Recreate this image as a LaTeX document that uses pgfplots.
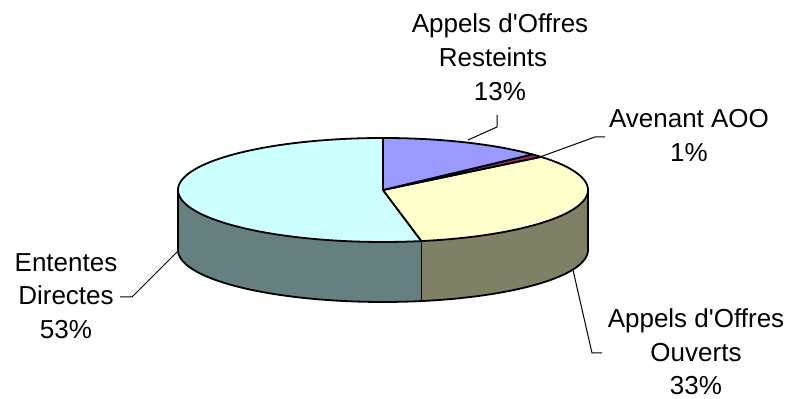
\documentclass[border=0pt]{standalone}
\usepackage{pgfplots}
\pgfplotsset{compat=1.18}
\usepgfplotslibrary{fillbetween}
\usepackage{fontspec}
\newfontfamily\labfont{Liberation Sans}

\definecolor{resTop}{HTML}{9999FF}
\definecolor{aveTop}{HTML}{993366}
\definecolor{ouvTop}{HTML}{FFFFCC}
\definecolor{ouvWall}{HTML}{808066}
\definecolor{entTop}{HTML}{CCFFFF}
\definecolor{entWall}{HTML}{668080}

\tikzset{lab/.style={anchor=base, inner sep=0pt, font=\labfont\fontsize{13}{17}\selectfont}}

% shares in percent
\def\pRes{13}
\def\pAve{1}
\def\pOuv{33}
\def\pEnt{53}

% pie geometry (centre, half axes, depth)
\def\cx{383}
\def\cy{190}
\def\ra{205}
\def\rb{52}
\def\dep{60}

% slice boundaries, clockwise from 12 o'clock
\pgfmathsetmacro\sRes{90}
\pgfmathsetmacro\eRes{\sRes-3.6*\pRes}
\pgfmathsetmacro\eAve{\eRes-3.6*\pAve}
\pgfmathsetmacro\eOuv{\eAve-3.6*\pOuv}
\pgfmathsetmacro\eEnt{\eOuv-3.6*\pEnt}
\pgfmathsetmacro\wSplit{\eOuv+360}
\pgfmathsetmacro\xSplit{\cx+\ra*cos(\eOuv)}
\pgfmathsetmacro\ySplit{\cy-\rb*sin(\eOuv)}
\pgfmathsetmacro\ySplitB{\ySplit+\dep}
\pgfmathsetmacro\xL{\cx-\ra}
\pgfmathsetmacro\xR{\cx+\ra}
\pgfmathsetmacro\yB{\cy+\dep}

\begin{document}
\begin{tikzpicture}
\begin{axis}[
  width=394.5pt, height=199.5pt, scale only axis,
  xmin=0, xmax=789, ymin=0, ymax=399, y dir=reverse,
  axis lines=none, clip=false, samples=120,
  every axis plot/.append style={line join=round},
]
% side walls
\addplot[draw=none, name path=eT, domain=180:\wSplit] ({\cx+\ra*cos(x)},{\cy-\rb*sin(x)});
\addplot[draw=none, name path=eB, domain=180:\wSplit] ({\cx+\ra*cos(x)},{\cy+\dep-\rb*sin(x)});
\addplot[entWall] fill between[of=eT and eB];
\addplot[draw=none, name path=oT, domain=\wSplit:360] ({\cx+\ra*cos(x)},{\cy-\rb*sin(x)});
\addplot[draw=none, name path=oB, domain=\wSplit:360] ({\cx+\ra*cos(x)},{\cy+\dep-\rb*sin(x)});
\addplot[ouvWall] fill between[of=oT and oB];
\addplot[black, line width=0.9pt, domain=180:360] ({\cx+\ra*cos(x)},{\cy+\dep-\rb*sin(x)});
\addplot[black, line width=0.9pt] coordinates {(\xL,\cy) (\xL,\yB)};
\addplot[black, line width=0.9pt] coordinates {(\xR,\cy) (\xR,\yB)};
\addplot[black, line width=0.9pt] coordinates {(\xSplit,\ySplit) (\xSplit,\ySplitB)};

% top faces
\addplot[fill=entTop, draw=black, line width=0.9pt, domain=\eEnt:\eOuv] ({\cx+\ra*cos(x)},{\cy-\rb*sin(x)}) -- (\cx,\cy) -- cycle;
\addplot[fill=ouvTop, draw=black, line width=0.9pt, domain=\eOuv:\eAve] ({\cx+\ra*cos(x)},{\cy-\rb*sin(x)}) -- (\cx,\cy) -- cycle;
\addplot[fill=aveTop, draw=black, line width=0.9pt, domain=\eAve:\eRes, samples=10] ({\cx+\ra*cos(x)},{\cy-\rb*sin(x)}) -- (\cx,\cy) -- cycle;
\addplot[fill=resTop, draw=black, line width=0.9pt, domain=\eRes:\sRes] ({\cx+\ra*cos(x)},{\cy-\rb*sin(x)}) -- (\cx,\cy) -- cycle;

% leader lines
\addplot[black, line width=0.5pt] coordinates {(497,115) (497,127) (468,140)};
\addplot[black, line width=0.5pt] coordinates {(605,137) (595,137) (540,157)};
\addplot[black, line width=0.5pt] coordinates {(120,297) (132,297) (177,252)};
\addplot[black, line width=0.5pt] coordinates {(573,270) (592,353) (602,353)};

% labels
\node[lab] at (500,33) {Appels d'Offres};
\node[lab] at (493,67) {Resteints};
\node[lab] at (500,101) {13\%};
\node[lab] at (689,128) {Avenant AOO};
\node[lab] at (689,162) {1\%};
\node[lab] at (696,328) {Appels d'Offres};
\node[lab] at (696,362) {Ouverts};
\node[lab] at (696,395) {33\%};
\node[lab] at (66,272) {Ententes};
\node[lab] at (66,305) {Directes};
\node[lab] at (66,339) {53\%};
\end{axis}
\pgfresetboundingbox
\path (current axis.south west) rectangle (current axis.north east);
\end{tikzpicture}
\end{document}
